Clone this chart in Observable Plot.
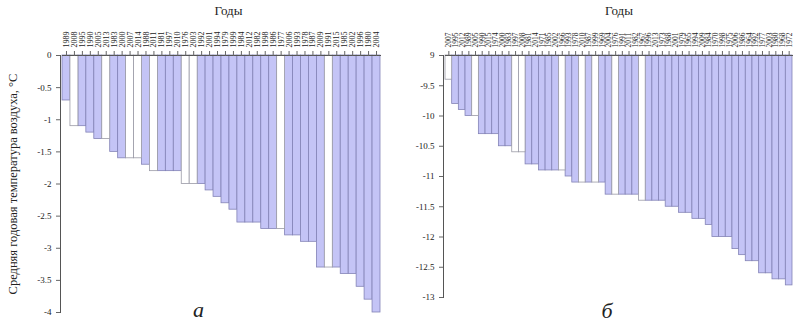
<!DOCTYPE html>
<html><head><meta charset="utf-8">
<script src="https://cdn.jsdelivr.net/npm/d3@7"></script>
<script src="https://cdn.jsdelivr.net/npm/@observablehq/plot@0.6"></script>
<style>
body{margin:0;background:#fff}
#wrap{position:relative;width:800px;height:322px;overflow:hidden;background:#fff}
#a,#b{position:absolute;top:0}
#a{left:0} #b{left:400px}
</style>
</head><body><div id="wrap"><div id="a"></div><div id="b"></div></div>
<script>
// Panel а
const yearsA = ["1989","2008","1995","1990","2005","2013","1983","2000","2007","2014","1988","2011","1981","1997","2010","1976","2003","1992","2001","1994","1979","1999","1984","2012","1982","1998","1986","1977","2006","1993","1978","1987","2009","1991","2015","1985","2002","1996","1980","2004"];
const valuesA = [-0.7,-1.1,-1.1,-1.2,-1.3,-1.3,-1.5,-1.6,-1.6,-1.6,-1.7,-1.8,-1.8,-1.8,-1.8,-2.0,-2.0,-2.0,-2.1,-2.2,-2.3,-2.4,-2.6,-2.6,-2.6,-2.7,-2.7,-2.7,-2.8,-2.8,-2.9,-2.9,-3.3,-3.3,-3.3,-3.4,-3.4,-3.6,-3.8,-4.0];
const markedA = [0,1,0,0,0,1,0,0,1,1,0,1,0,0,0,1,1,0,0,0,0,0,0,0,0,0,0,1,0,0,0,0,0,1,0,0,0,0,0,0];
const ticksA = [0,-0.5,-1,-1.5,-2,-2.5,-3,-3.5,-4];

// Panel б
const yearsB = ["2007","1995","2012","1989","2005","1990","2015","1974","2000","1983","1997","2008","1981","2014","1971","1985","2002","1966","1993","1978","2010","1987","1999","1969","2004","1976","1991","2011","1982","1967","1996","2013","1973","1988","2001","1979","1965","1994","2009","1984","1970","1998","1975","2006","1986","1964","1992","1977","2003","1980","1968","1972"];
const valuesB = [-9.4,-9.8,-9.9,-10.0,-10.0,-10.3,-10.3,-10.3,-10.5,-10.5,-10.6,-10.6,-10.8,-10.8,-10.9,-10.9,-10.9,-10.9,-11.0,-11.1,-11.1,-11.1,-11.1,-11.1,-11.3,-11.3,-11.3,-11.3,-11.3,-11.4,-11.4,-11.4,-11.4,-11.5,-11.5,-11.6,-11.6,-11.7,-11.7,-11.8,-12.0,-12.0,-12.0,-12.2,-12.3,-12.4,-12.4,-12.6,-12.6,-12.7,-12.7,-12.8];
const markedB = [1,0,0,0,1,0,0,0,0,0,1,1,0,0,0,0,0,1,0,0,1,0,1,0,0,1,0,0,0,1,0,0,0,0,0,0,0,0,0,0,0,0,0,0,0,0,0,0,0,0,0,0];
const ticksB = [-9,-9.5,-10,-10.5,-11,-11.5,-12,-12.5,-13];

const yLabel = "Средняя годовая температура воздуха, °С";
const xLabel = "Годы";

const FONT = "'Liberation Serif', 'Times New Roman', serif";

function panel(o) {
  const data = o.years.map((y, i) => ({year: y, value: o.values[i], marked: o.marked[i] === 1}));
  const marks = [
    Plot.barY(data.filter(d => !d.marked), {x: "year", y1: o.base, y2: "value", fill: "#c4c4f6", stroke: "#8383b6", strokeWidth: 0.8}),
    Plot.barY(data.filter(d => d.marked), {x: "year", y1: o.base, y2: "value", fill: "#ffffff", stroke: "#9a9aa6", strokeWidth: 0.8}),
    Plot.frame({anchor: "left", stroke: "#555", dx: -2}),
    Plot.frame({anchor: "top", stroke: "#555"}),
    Plot.axisX({anchor: "top", tickRotate: -90, fontSize: o.yearFont, tickSize: 5, tickPadding: 3, label: null, stroke: "#666"}),
    Plot.axisY({ticks: o.ticks, tickFormat: o.fmt, tickSize: 4, dx: -2, fontSize: 9, label: null, stroke: "#666"}),
    Plot.text([xLabel], {frameAnchor: "top", dy: -45, dx: o.titleDx, fontSize: 13, lineAnchor: "middle"}),
    Plot.text([o.letter], {frameAnchor: "bottom", dx: o.letterDx, dy: o.letterDy, fontSize: 22, fontStyle: "italic", lineAnchor: "middle"})
  ];
  if (o.ylabel) marks.push(Plot.text([o.ylabel], {frameAnchor: "left", rotate: -90, dx: -50, fontSize: 12.5, textAnchor: "middle", lineAnchor: "middle"}));
  return Plot.plot({
    width: 400, height: 322,
    marginTop: 55, marginLeft: o.mL, marginRight: o.mR, marginBottom: o.mB,
    style: {fontFamily: FONT, background: "#fff", color: "#222", overflow: "visible"},
    x: {domain: o.years, padding: 0, axis: null},
    y: {domain: o.yDomain, axis: null},
    marks
  });
}

document.getElementById("a").appendChild(panel({
  years: yearsA, values: valuesA, marked: markedA, base: 0,
  yDomain: [-4, 0], ticks: ticksA, fmt: d => String(d), yearFont: 8,
  mL: 62, mR: 20, mB: 10, ylabel: yLabel, letter: "а", letterDx: -23, letterDy: -3, titleDx: 7
}));
document.getElementById("b").appendChild(panel({
  years: yearsB, values: valuesB, marked: markedB, base: -9,
  yDomain: [-13, -9], ticks: ticksB, fmt: d => d === -9 ? "9" : String(d), yearFont: 7.5,
  mL: 45, mR: 8, mB: 25, ylabel: null, letter: "б", letterDx: -12, letterDy: 13, titleDx: 0
}));
</script>
</body></html>
